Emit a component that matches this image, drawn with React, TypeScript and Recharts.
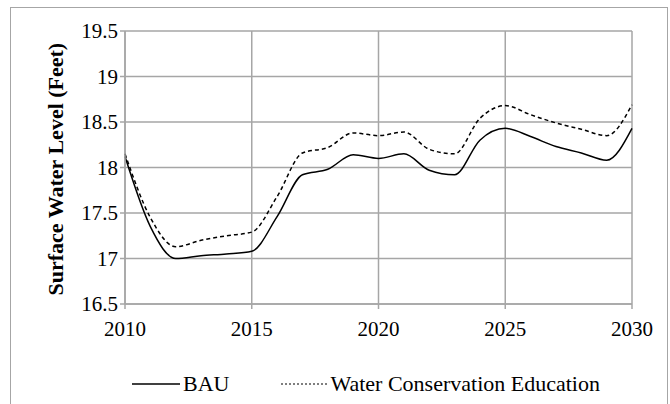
import React from 'react';
import { LineChart, Line, XAxis, YAxis, CartesianGrid } from 'recharts';

const years = [2010, 2011, 2012, 2013, 2014, 2015, 2016, 2017, 2018, 2019, 2020, 2021, 2022, 2023, 2024, 2025, 2026, 2027, 2028, 2029, 2030];
const bau = [18.12, 17.35, 17.0, 17.03, 17.05, 17.08, 17.46, 17.92, 17.98, 18.14, 18.1, 18.15, 17.97, 17.92, 18.3, 18.43, 18.34, 18.23, 18.16, 18.08, 18.43];
const education = [18.15, 17.45, 17.13, 17.2, 17.25, 17.29, 17.68, 18.16, 18.22, 18.38, 18.35, 18.39, 18.2, 18.15, 18.54, 18.68, 18.58, 18.49, 18.42, 18.35, 18.69];

const xTicks = [2010, 2015, 2020, 2025, 2030];
const yTicks = [16.5, 17, 17.5, 18, 18.5, 19, 19.5];

const chartData = years.map((year, i) => ({
  year,
  bau: bau[i],
  education: education[i]
}));

const FONT = 'Liberation Serif, DejaVu Serif, serif';
const GRID = '#a6a6a6';

// legend drawn as plain html under the plot, like the excel one
const ChartLegend = () => (
  <div style={{ position: 'absolute', left: 132, top: 371, display: 'flex', alignItems: 'center', fontFamily: FONT, fontSize: 22, color: '#000' }}>
    <svg width={48} height={10}>
      <line x1={0} y1={5} x2={48} y2={5} stroke="#000" strokeWidth={1.5} />
    </svg>
    <span style={{ marginLeft: 3 }}>BAU</span>
    <svg width={48} height={10} style={{ marginLeft: 52 }}>
      <line x1={0} y1={5} x2={48} y2={5} stroke="#000" strokeWidth={1.2} strokeDasharray="2 2" />
    </svg>
    <span style={{ marginLeft: 1 }}>Water Conservation Education</span>
  </div>
);

const App: React.FC = () => {
  return (
    <div style={{ position: 'absolute', left: 0, top: 0, width: 670, height: 404, overflow: 'hidden', background: '#fff' }}>
      <div style={{ position: 'absolute', left: 10, top: 7, width: 658, height: 420, border: `1px solid ${GRID}`, boxSizing: 'border-box' }} />
      <LineChart
        width={670}
        height={404}
        data={chartData}
        margin={{ top: 31, right: 38, left: 25, bottom: 50 }}
        style={{ position: 'absolute', left: 0, top: 0 }}
      >
        <CartesianGrid stroke={GRID} strokeWidth={1.5} />
        <XAxis
          dataKey="year"
          type="number"
          domain={[2010, 2030]}
          ticks={xTicks}
          stroke={GRID}
          strokeWidth={1.5}
          tickSize={5}
          tickMargin={12}
          height={50}
          tick={{ fill: '#000', fontSize: 21, fontFamily: FONT }}
        />
        <YAxis
          domain={[16.5, 19.5]}
          ticks={yTicks}
          stroke={GRID}
          strokeWidth={1.5}
          tickSize={5}
          width={100}
          tick={{ fill: '#000', fontSize: 21, fontFamily: FONT }}
          label={{
            value: 'Surface Water Level (Feet)',
            angle: -90,
            position: 'insideLeft',
            offset: 30,
            dy: 128,
            style: { fill: '#000', fontSize: 22, fontWeight: 'bold', fontFamily: FONT }
          }}
        />
        <Line
          type="monotone"
          dataKey="bau"
          name="BAU"
          stroke="#000"
          strokeWidth={1.5}
          dot={false}
          isAnimationActive={false}
        />
        <Line
          type="monotone"
          dataKey="education"
          name="Water Conservation Education"
          stroke="#000"
          strokeWidth={1.5}
          strokeDasharray="4 3"
          dot={false}
          isAnimationActive={false}
        />
      </LineChart>
      <ChartLegend />
    </div>
  );
};

export default App;
